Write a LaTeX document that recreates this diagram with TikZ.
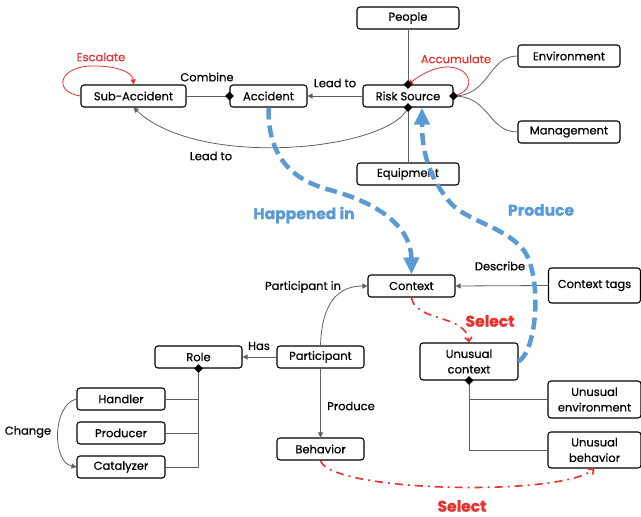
\documentclass[tikz,border=0pt]{standalone}
\usepackage{fontspec}
\setmainfont{Poppins}[UprightFeatures={FakeBold=0.4},BoldFeatures={FakeBold=1.2}]
\usetikzlibrary{arrows.meta,shapes.geometric}
\definecolor{bl}{HTML}{5B9BD5}
\definecolor{rd}{HTML}{E8312F}
\definecolor{ln}{HTML}{606060}
\tikzset{
 box/.style={draw, fill=white, rounded corners=3pt, line width=1.1pt, minimum height=22pt, inner sep=1pt, font=\fontsize{11.5}{15.5}\selectfont, align=center},
 dia/.style={diamond, fill=black, inner sep=0pt, minimum size=9pt},
 conn/.style={draw=ln, line width=0.8pt},
 tip/.style={-{Triangle[length=5pt,width=5pt]}},
 lbl/.style={font=\fontsize{11.5}{13}\selectfont, inner sep=0pt},
 blbl/.style={font=\fontsize{15.5}{17}\selectfont\bfseries, text=bl, inner sep=0pt},
 rlbl/.style={font=\fontsize{15.5}{17}\selectfont\bfseries, text=rd, inner sep=0pt},
 blu/.style={draw=bl, line width=4.5pt, dash pattern=on 12pt off 6pt, -{Triangle[length=17pt,width=15pt]}},
 redd/.style={draw=rd, line width=1.6pt, dash pattern=on 8pt off 5pt on 2pt off 5pt, -{Straight Barb[length=4pt,width=7pt]}},
 loopr/.style={draw=rd, line width=0.8pt, -{Triangle[length=5pt,width=5pt]}},
}
\begin{document}
\begin{tikzpicture}[x=1pt,y=-1pt]
\useasboundingbox (0,0) rectangle (641,517);
% nodes
\node[box, minimum width=102pt] (people) at (408,18) {People};
\node[box, minimum width=105pt] (sub) at (133.5,96) {Sub-Accident};
\node[box, minimum width=77pt] (acc) at (268.5,96) {Accident};
\node[box, minimum width=90pt] (rs) at (408,96) {Risk Source};
\node[box, minimum width=102pt] (env) at (569,56) {Environment};
\node[box, minimum width=102pt] (man) at (569,132) {Management};
\node[box, minimum width=102pt] (equ) at (408,174) {Equipment};
\node[box, minimum width=87pt] (ctx) at (411.5,286) {Context};
\node[box, minimum width=92pt, minimum height=35pt] (tags) at (594.5,285.5) {Context tags};
\node[box, minimum width=87pt] (part) at (320.5,357) {Participant};
\node[box, minimum width=87pt] (role) at (198.5,357) {Role};
\node[box, minimum width=88pt] (hand) at (121,399) {Handler};
\node[box, minimum width=88pt] (prod) at (121,433) {Producer};
\node[box, minimum width=88pt] (cat) at (121,467) {Catalyzer};
\node[box, minimum width=87pt] (beh) at (320.5,449) {Behavior};
\node[box, minimum width=98pt, minimum height=37pt] (uc) at (469,361.5) {Unusual\\context};
\node[box, minimum width=93pt, minimum height=37pt] (ue) at (594.5,399.5) {Unusual\\environment};
\node[box, minimum width=93pt, minimum height=36pt] (ub) at (594.5,450) {Unusual\\behavior};
% connectors
\draw[conn] (people) -- (rs.north);
\draw[conn] (equ) -- (rs.south);
\draw[conn] (env.west) .. controls (488,56) and (490,96) .. (rs.east);
\draw[conn] (man.west) .. controls (488,132) and (490,96) .. (rs.east);
\draw[loopr] (rs.east) .. controls (488,88) and (460,45) .. (rs.north);
\draw[conn,tip] (rs.west) -- (acc.east);
\draw[conn] (sub.east) -- (acc.west);
\draw[conn,tip] (rs.south) .. controls (390,150) and (200,170) .. (sub.south);
\draw[loopr] (sub.west) .. controls (52,92) and (58,64) .. (98,66) .. controls (122,67) and (133,74) .. (sub.north);
\draw[conn,tip] (tags.west) -- (ctx.east);
\draw[conn,tip] (part.north) .. controls (322,300) and (340,286) .. (ctx.west);
\draw[conn,tip] (part.west) -- (role.east);
\draw[conn,tip] (part.south) -- (beh.north);
\draw[conn] (role.south) |- (cat.east);
\draw[conn] (hand.east) -- (hand.east -| role.south);
\draw[conn] (prod.east) -- (prod.east -| role.south);
\draw[conn] (uc.south) |- (ub.west);
\draw[conn] (ue.west) -- (ue.west -| uc.south);
\draw[conn,tip] (hand.west) .. controls (52,405) and (52,462) .. (cat.west);
\draw[redd] (ctx.south) .. controls (415,322) and (466,314) .. (uc.north);
\draw[redd] (beh.south) .. controls (330,492) and (560,497) .. (ub.south);
\draw[blu] (acc.south) .. controls (268,150) and (285,178) .. (330,190) .. controls (375,202) and (411,225) .. (ctx.north);
\draw[blu] (uc.east) .. controls (537,350) and (542,280) .. (525,252) .. controls (505,225) and (465,222) .. (448,200) .. controls (428,175) and (422,150) .. ([xshift=14pt]rs.south);
% diamonds
\node[dia] (d1) at (rs.north) {};
\node[dia] (d2) at (rs.south) {};
\node[dia] (d3) at (rs.east) {};
\node[dia] (d4) at (acc.west) {};
\node[dia] (d5) at (role.south) {};
\node[dia] (d6) at (uc.south) {};
% labels
\node[lbl, text=rd] (lesc) at (101,57) {Escalate};
\node[lbl] (lcomb) at (207,77) {Combine};
\node[lbl] (llead1) at (335,83) {Lead to};
\node[lbl] (llead2) at (211,156) {Lead to};
\node[lbl, text=rd] (lacc) at (456,59) {Accumulate};
\node[blbl] (lhap) at (304,215) {Happened in};
\node[blbl] (lprodb) at (541,210) {Produce};
\node[lbl] (ldesc) at (500,266) {Describe};
\node[lbl] (lpart) at (303,287) {Participant in};
\node[rlbl] (lsel1) at (490,321) {Select};
\node[lbl] (lhas) at (259,346) {Has};
\node[lbl] (lprod) at (351,406) {Produce};
\node[lbl] (lchg) at (28,432) {Change};
\node[rlbl] (lsel2) at (462,506) {Select};
\end{tikzpicture}
\end{document}
